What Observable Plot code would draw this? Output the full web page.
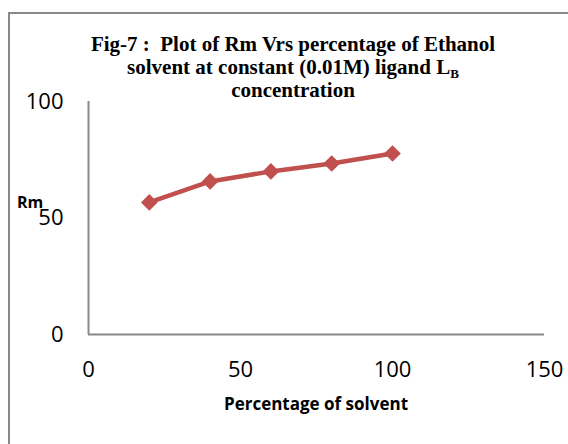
<!DOCTYPE html>
<html>
<head>
<meta charset="utf-8">
<script src="https://cdn.jsdelivr.net/npm/d3@7"></script>
<script src="https://cdn.jsdelivr.net/npm/@observablehq/plot@0.6"></script>
<style>
  html, body { margin: 0; padding: 0; background: #fff; }
  #wrap { position: relative; width: 568px; height: 444px; overflow: hidden; }
  #frame { position: absolute; left: 8px; top: 12px; width: 600px; height: 500px;
           border-left: 2px solid #888; border-top: 2px solid #888; box-sizing: border-box; }
  #title { position: absolute; left: 43px; width: 500px; top: 33px; text-align: center;
           font-family: "Liberation Serif", "Times New Roman", serif; font-weight: bold;
           font-size: 21px; line-height: 23px; color: #000; white-space: nowrap; }
  #title sub { font-size: 13px; vertical-align: -4px; line-height: 0; }
  #ylab { position: absolute; left: 17px; top: 191px; font-family: "Open Sans", sans-serif;
          font-weight: bold; font-size: 16px; line-height: normal; color: #000; }
  #xlab { position: absolute; left: 166px; width: 300px; top: 392px; text-align: center;
          font-family: "Open Sans", sans-serif; font-weight: bold; font-size: 17px; line-height: normal; color: #000; }
  #chart { position: absolute; left: 0; top: 0; }
</style>
</head>
<body>
<div id="wrap">
  <div id="frame"></div>
  <div id="chart"></div>
  <div id="title">Fig-7 :&nbsp; Plot of Rm Vrs percentage of Ethanol<br>solvent at constant (0.01M) ligand L<sub>B</sub><br>concentration</div>
  <div id="ylab">Rm</div>
  <div id="xlab">Percentage of solvent</div>
</div>
<script>
const percentSolvent = [20, 40, 60, 80, 100];
const rmValues = [56.7, 65.7, 70.0, 73.4, 77.7];
const xTicks = [0, 50, 100, 150];
const yTicks = [0, 50, 100];

const data = percentSolvent.map((x, i) => ({x, y: rmValues[i]}));
const red = "#C0504D";
const axisColor = "#888";

const chart = Plot.plot({
  width: 568,
  height: 444,
  marginLeft: 88,
  marginRight: 24,
  marginTop: 101,
  marginBottom: 110,
  style: { fontFamily: "'Open Sans', sans-serif", fontSize: "22px", color: "#000", background: "transparent", overflow: "visible" },
  x: { domain: [0, 150] },
  y: { domain: [0, 100] },
  marks: [
    Plot.ruleY([0], { stroke: axisColor, strokeWidth: 2 }),
    Plot.ruleX([0], { stroke: axisColor, strokeWidth: 2 }),
    Plot.axisX({ ticks: xTicks, tickSize: 0, tickPadding: 27, label: null, fontSize: 22 }),
    Plot.axisY({ ticks: yTicks, tickSize: 0, tickPadding: 25, label: null, fontSize: 22 }),
    Plot.line(data, { x: "x", y: "y", stroke: red, strokeWidth: 4.5 }),
    Plot.dot(data, { x: "x", y: "y", symbol: "diamond2", r: 7.5, fill: red, stroke: "none" })
  ]
});
document.getElementById("chart").appendChild(chart);
</script>
</body>
</html>
